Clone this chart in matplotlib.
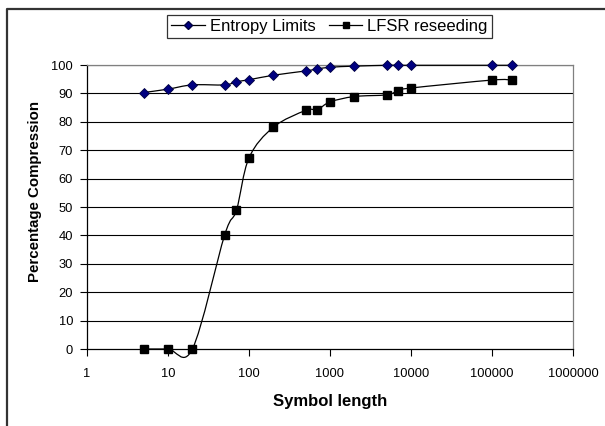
import numpy as np
import matplotlib
matplotlib.use('Agg')
import matplotlib.pyplot as plt
from matplotlib.path import Path
from matplotlib.patches import PathPatch
from matplotlib.lines import Line2D
from matplotlib.ticker import FixedLocator, FixedFormatter, NullLocator

plt.rcParams['font.family'] = ['Liberation Sans', 'DejaVu Sans']

# data
symbol_length = [5, 10, 20, 50, 70, 100, 200, 500, 700, 1000, 2000, 5000, 7000, 10000, 100000, 175000]
entropy_limits = [90.3, 91.5, 93.0, 93.0, 94.1, 94.8, 96.4, 97.9, 98.6, 99.2, 99.6, 99.9, 99.9, 99.9, 99.9, 99.9]
lfsr_reseeding = [0, 0, 0, 40.1, 48.9, 67.3, 78.1, 84.0, 84.3, 87.0, 88.9, 89.5, 91.0, 91.9, 94.7, 94.7]
x_ticks = [1, 10, 100, 1000, 10000, 100000, 1000000]
y_ticks = [0, 10, 20, 30, 40, 50, 60, 70, 80, 90, 100]


def smooth_path(xs, ys):
    # excel style smoothed line: bezier segments through the points (log x)
    u = np.log10(np.asarray(xs, float))
    v = np.asarray(ys, float)
    n = len(u)
    verts = [(xs[0], ys[0])]
    codes = [Path.MOVETO]
    for i in range(n - 1):
        a = max(i - 1, 0)
        b = min(i + 2, n - 1)
        c1 = (u[i] + (u[i + 1] - u[a]) / 6, v[i] + (v[i + 1] - v[a]) / 6)
        c2 = (u[i + 1] - (u[b] - u[i]) / 6, v[i + 1] - (v[b] - v[i]) / 6)
        verts += [(10 ** c1[0], c1[1]), (10 ** c2[0], c2[1]), (xs[i + 1], ys[i + 1])]
        codes += [Path.CURVE4] * 3
    return Path(verts, codes)


fig = plt.figure(figsize=(6.05, 4.26), dpi=100)
ax = fig.add_axes([87 / 605, 77 / 426, 486 / 605, 284 / 426])

ax.set_xscale('log')
ax.set_xlim(1, 1000000)
ax.set_ylim(0, 100)

for yv in y_ticks[1:]:
    ax.axhline(yv, color='black', lw=0.8, zorder=1)

for ys in (entropy_limits, lfsr_reseeding):
    ax.add_patch(PathPatch(smooth_path(symbol_length, ys), facecolor='none',
                           edgecolor='black', lw=0.9, zorder=3, clip_on=False))

ax.plot(symbol_length, entropy_limits, linestyle='none', marker='D', ms=5.5,
        mfc='#000080', mec='#000040', mew=0.6, zorder=4, clip_on=False)
ax.plot(symbol_length, lfsr_reseeding, linestyle='none', marker='s', ms=6,
        mfc='black', mec='black', zorder=4, clip_on=False)

ax.xaxis.set_major_locator(FixedLocator(x_ticks))
ax.xaxis.set_major_formatter(FixedFormatter([str(t) for t in x_ticks]))
ax.xaxis.set_minor_locator(NullLocator())
ax.set_yticks(y_ticks)
ax.tick_params(axis='both', direction='out', length=5, width=0.8, labelsize=9.3, colors='black')
ax.tick_params(axis='x', pad=9)
ax.tick_params(axis='y', pad=5)

for s in ('left', 'bottom'):
    ax.spines[s].set_color('black')
    ax.spines[s].set_linewidth(0.9)
for s in ('right', 'top'):
    ax.spines[s].set_color('#808080')
    ax.spines[s].set_linewidth(0.9)

ax.set_xlabel('Symbol length', fontsize=12, fontweight='bold', labelpad=10)
ax.set_ylabel('Percentage Compression', fontsize=10.8, fontweight='bold')
ax.yaxis.set_label_coords(-0.093, 0.554)

handles = [
    Line2D([], [], color='black', lw=0.9, marker='D', ms=4, mfc='#000080', mec='#000040'),
    Line2D([], [], color='black', lw=0.9, marker='s', ms=4.5, mfc='black', mec='black'),
]
leg = fig.legend(handles, ['Entropy Limits', 'LFSR reseeding'], loc='center',
                 bbox_to_anchor=(329.5 / 605, 1 - 26.5 / 426), ncol=2, fontsize=12,
                 frameon=True, fancybox=False, handlelength=2.0, handletextpad=0.3,
                 columnspacing=0.8, borderpad=0.25)
leg.get_frame().set_edgecolor('black')
leg.get_frame().set_linewidth(0.9)

# outer chart frame (only top and left edges show)
fig.add_artist(Line2D([7 / 605, 7 / 605, 1], [0, 1 - 8.5 / 426, 1 - 8.5 / 426],
                      transform=fig.transFigure, color='#333333', lw=1.6))

fig.savefig('out.png', dpi=100)
